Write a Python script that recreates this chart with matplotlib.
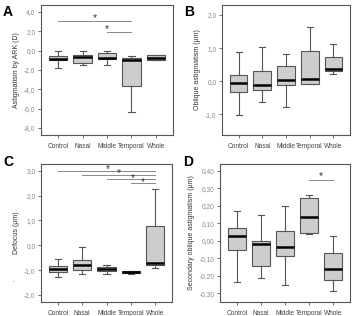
import numpy as np
import matplotlib.pyplot as plt
from matplotlib.ticker import FuncFormatter

plt.rcParams['font.family'] = ['Liberation Sans', 'DejaVu Sans']

groupes = ['Control', 'Nasal', 'Middle', 'Temporal', 'Whole']

# A - Astigmatism by ARK (D)
a_med = [-0.85, -0.65, -0.75, -1.0, -0.75]
a_q1 = [-1.0, -1.25, -0.85, -3.65, -1.0]
a_q3 = [-0.55, -0.4, -0.25, -0.75, -0.5]
a_lo = [-1.8, -1.5, -1.5, -6.3, -1.0]
a_hi = [0.0, 0.0, 0.0, -0.55, -0.5]

# B - Oblique astigmatism
b_med = [-0.04, -0.1, 0.05, 0.08, 0.38]
b_q1 = [-0.32, -0.27, -0.1, -0.07, 0.31]
b_q3 = [0.18, 0.31, 0.46, 0.91, 0.73]
b_lo = [-1.02, -0.62, -0.77, -0.07, 0.23]
b_hi = [0.88, 1.03, 0.81, 1.65, 1.13]

# C - Defocus
c_med = [-0.95, -0.78, -0.95, -1.09, -0.73]
c_q1 = [-1.09, -0.98, -1.02, -1.13, -0.81]
c_q3 = [-0.82, -0.6, -0.89, -1.05, 0.76]
c_lo = [-1.28, -1.16, -1.16, -1.14, -0.91]
c_hi = [-0.55, -0.08, -0.8, -1.02, 2.28]

# D - Secondary oblique astigmatism
d_med = [0.028, -0.016, -0.033, 0.139, -0.163]
d_q1 = [-0.052, -0.142, -0.085, 0.043, -0.224]
d_q3 = [0.072, 0.0, 0.058, 0.243, -0.068]
d_lo = [-0.234, -0.214, -0.253, 0.037, -0.285]
d_hi = [0.17, 0.148, 0.20, 0.263, 0.03]

# comparaisons significatives : (groupe i, groupe j, hauteur de la barre)
a_sig = [(0, 3, 3.1), (2, 3, 1.95)]
c_sig = [(0, 4, 3.0), (1, 4, 2.84), (2, 4, 2.66), (3, 4, 2.5)]
c_etoiles = [3.05, 3.5, 4.1, 4.5]
d_sig = [(3, 4, 0.348)]

gris = '#555555'
gris_txt = '#8a8a8a'


def virgule(nd):
    return FuncFormatter(lambda v, p: ('%.*f' % (nd, v)).replace('.', ','))


def panneau(ax, med, q1, q3, lo, hi, ticks, nd, ylim, ylabel):
    stats = []
    for i in range(len(groupes)):
        stats.append({'med': med[i], 'q1': q1[i], 'q3': q3[i],
                      'whislo': lo[i], 'whishi': hi[i], 'fliers': []})
    ax.bxp(stats, positions=np.arange(1, 6), widths=0.75, patch_artist=True,
           showfliers=False,
           boxprops=dict(facecolor='#cdcdcd', edgecolor=gris, linewidth=0.8),
           medianprops=dict(color='black', linewidth=1.8),
           whiskerprops=dict(color=gris, linewidth=0.8),
           capprops=dict(color=gris, linewidth=0.8), capwidths=0.25)
    ax.set_xlim(0.3, 5.7)
    ax.set_yticks(ticks)
    ax.set_ylim(*ylim)
    ax.yaxis.set_major_formatter(virgule(nd))
    ax.set_xticks(np.arange(1, 6))
    ax.set_xticklabels(groupes)
    ax.tick_params(length=2.5, width=0.6, color=gris, pad=1.5)
    ax.tick_params(axis='y', labelcolor=gris_txt, labelsize=4.8)
    ax.tick_params(axis='x', labelcolor='#444444', labelsize=4.7, pad=3)
    for s in ax.spines.values():
        s.set_color(gris)
        s.set_linewidth(0.8)
    ax.set_ylabel(ylabel, fontsize=5, color='#333333', labelpad=3)


def etoiles(ax, sig, xs, dy):
    for (i, j, h), x in zip(sig, xs):
        ax.plot([i + 1, j + 1], [h, h], color='#888888', linewidth=0.7)
        ax.text(x, h + dy, '*', ha='center', va='center', fontsize=7.5,
                color='#333333')


fig = plt.figure(figsize=(3.54, 3.16), dpi=100)
W, H = 354.0, 316.0


def boite(l, r, t, b):
    return fig.add_axes([l / W, 1 - b / H, (r - l) / W, (b - t) / H])


axA = boite(41, 173, 5, 135)
axB = boite(222, 350, 5, 135)
axC = boite(41, 172, 164, 302)
axD = boite(220, 350, 164, 302)

panneau(axA, a_med, a_q1, a_q3, a_lo, a_hi, np.arange(-8, 5, 2), 1,
        (-8.72, 4.72), 'Astigmatism by ARK (D)')
panneau(axB, b_med, b_q1, b_q3, b_lo, b_hi, [-1, 0, 1, 2], 1,
        (-1.62, 2.3), 'Oblique astigmatism (µm)')
panneau(axC, c_med, c_q1, c_q3, c_lo, c_hi, [-2, -1, 0, 1, 2, 3], 1,
        (-2.28, 3.27), 'Defocus (µm)')
panneau(axD, d_med, d_q1, d_q3, d_lo, d_hi, np.arange(-0.3, 0.41, 0.1), 2,
        (-0.35, 0.44), 'Secondary oblique astigmatism (µm)')

etoiles(axA, a_sig, [2.5, 3.0], 0.3)
etoiles(axC, c_sig, c_etoiles, 0.06)
etoiles(axD, d_sig, [4.5], 0.022)

# petit tiret isolé à gauche du panneau C
axC.text(-0.21, 0.15, '-', transform=axC.transAxes, fontsize=4,
         color='#555555', ha='center', va='center')

for lettre, x, y in [('A', 3, 12), ('B', 184, 12), ('C', 3, 162), ('D', 183, 162)]:
    fig.text(x / W, 1 - y / H, lettre, fontsize=10, fontweight='bold',
             ha='left', va='center')

fig.savefig('out.png', dpi=100)
